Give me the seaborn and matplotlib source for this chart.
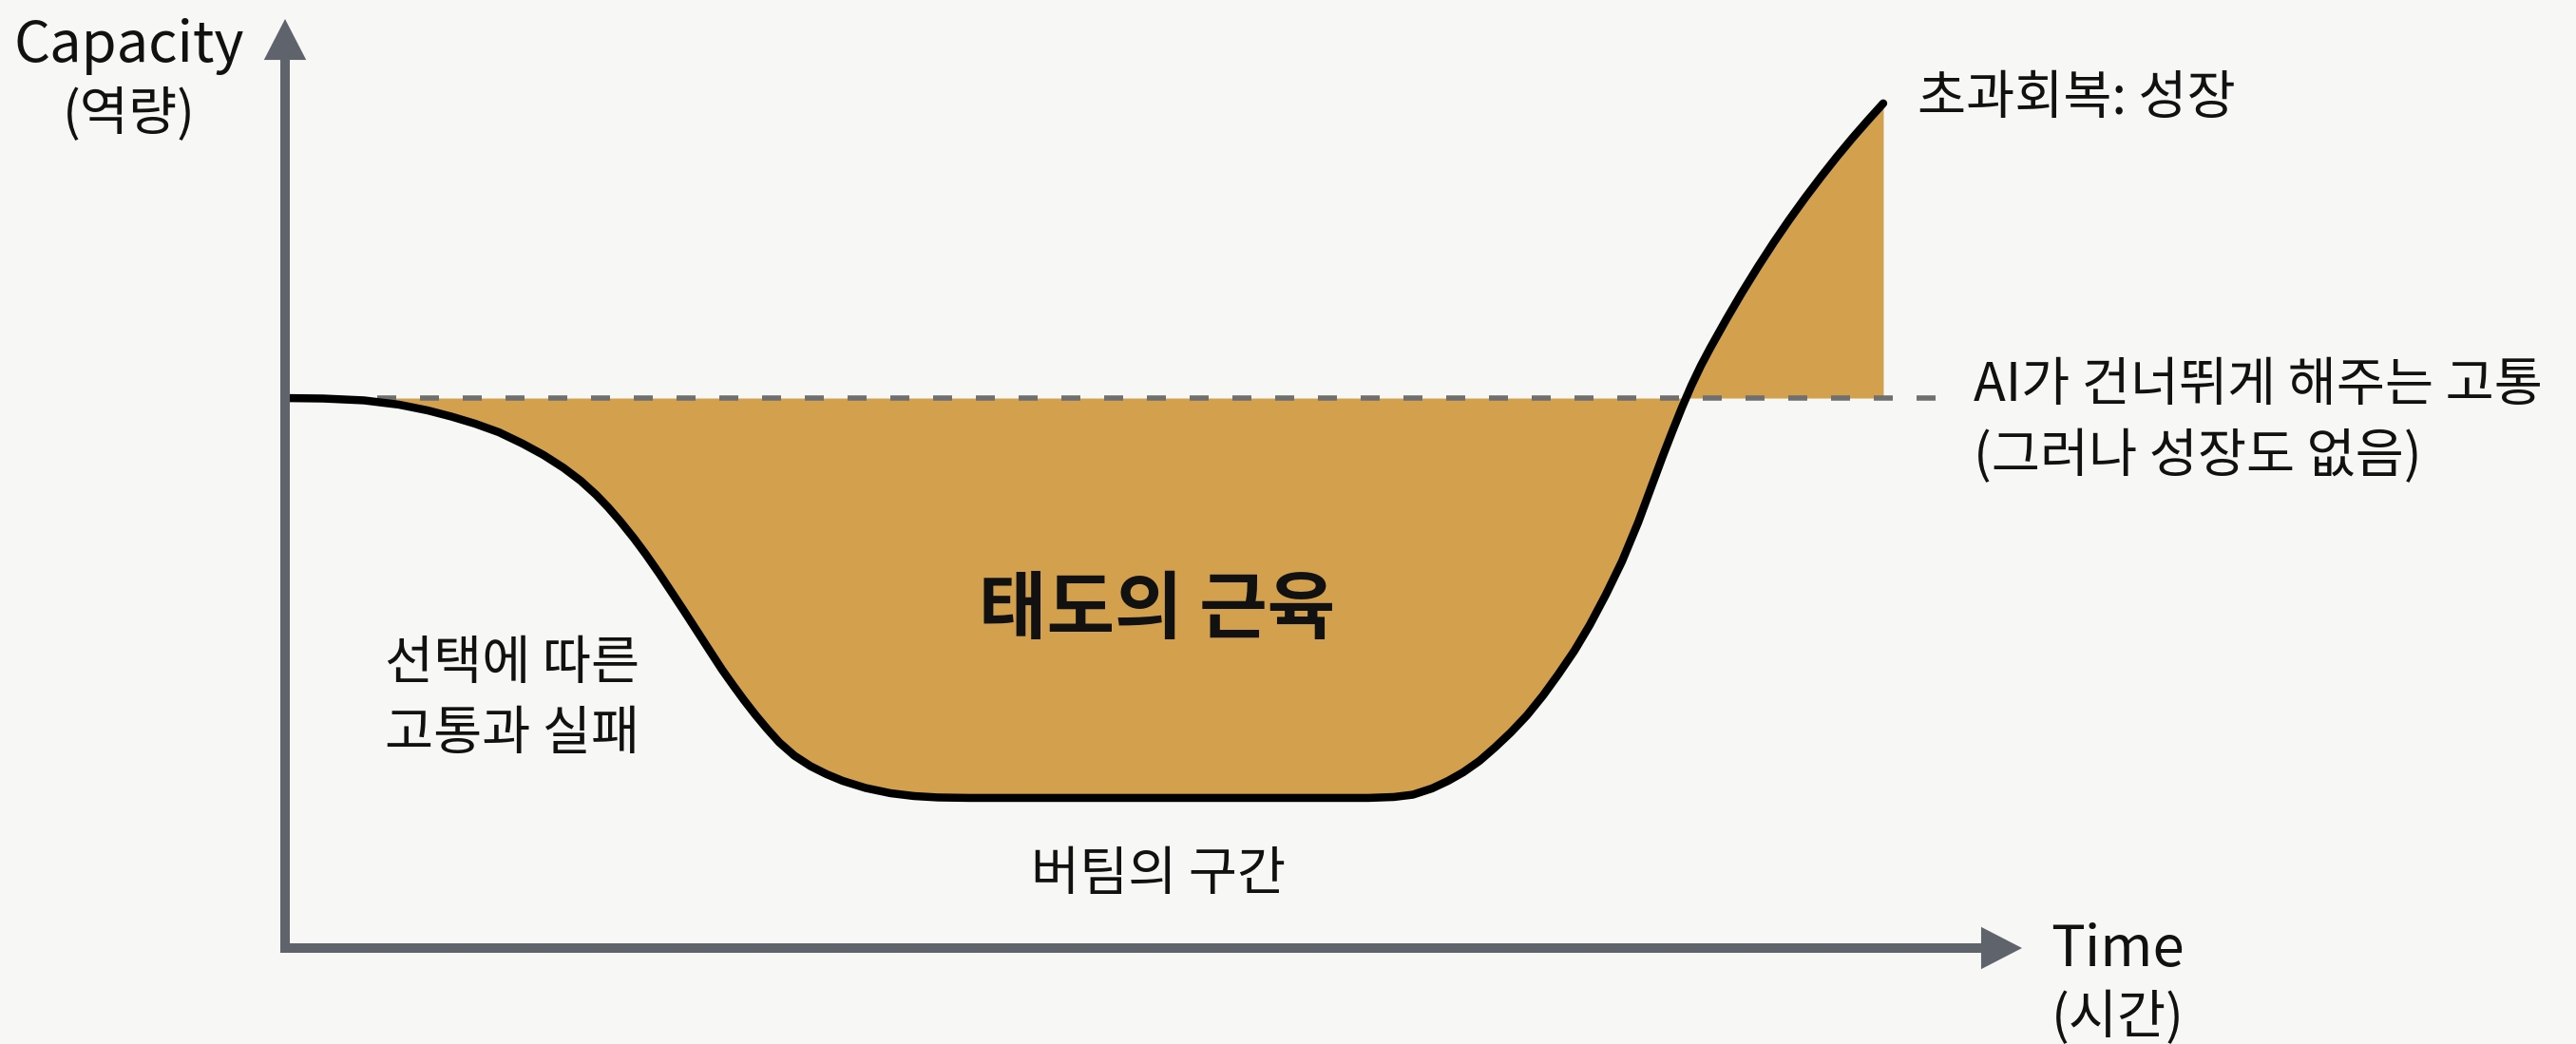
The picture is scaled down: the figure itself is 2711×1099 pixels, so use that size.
import matplotlib
matplotlib.use('Agg')
import matplotlib.pyplot as plt
import seaborn as sns
import pandas as pd

# capacity curve (time 0-100, capacity 0-100)
time_pts = [0.00, 2.19, 4.54, 6.56, 8.21, 9.57, 10.94, 12.31, 13.68, 14.88,
            16.03, 17.01, 17.89, 18.60, 19.31, 20.08, 20.79, 21.55, 22.26, 22.98,
            23.69, 24.45, 25.16, 25.82, 26.42, 27.08, 27.74, 28.45, 29.32, 30.25,
            31.18, 32.11, 33.42, 34.85, 36.21, 37.58, 39.39, 62.36, 63.84, 64.93,
            66.03, 66.96, 67.83, 68.76, 69.64, 70.57, 71.50, 72.43, 73.30, 74.23,
            75.11, 76.04, 76.97, 77.90, 78.77, 79.32, 79.87, 80.42, 80.96, 81.51,
            82.06, 82.99, 83.86, 84.79, 85.72, 86.60, 87.53, 88.46, 89.33, 90.26,
            91.14, 92.01]
capacity_pts = [59.20, 59.15, 58.95, 58.49, 57.87, 57.21, 56.44, 55.52, 54.29, 53.07,
                51.69, 50.31, 48.82, 47.44, 45.91, 44.12, 42.33, 40.29, 38.29, 36.25,
                34.20, 32.00, 29.96, 28.22, 26.69, 25.10, 23.62, 22.14, 20.71, 19.58,
                18.71, 17.99, 17.23, 16.67, 16.36, 16.21, 16.16, 16.16, 16.26, 16.51,
                17.18, 18.00, 18.92, 20.14, 21.57, 23.21, 25.05, 27.20, 29.45, 32.00,
                34.76, 38.04, 41.62, 45.81, 50.20, 52.97, 55.62, 58.18, 60.53, 62.68,
                64.62, 67.72, 70.50, 73.31, 75.99, 78.39, 80.80, 83.09, 85.15, 87.24,
                89.12, 90.92]

baseline_level = 59.2
baseline_span = [5.3, 95.5]

labels_left = ["선택에 따른", "고통과 실패"]
label_center = "태도의 근육"
label_bottom = "버팀의 구간"
label_peak = "초과회복: 성장"
labels_skip = ["AI가 건너뛰게 해주는 고통", "(그러나 성장도 없음)"]
y_label = ["Capacity", "(역량)"]
x_label = ["Time", "(시간)"]

BG = '#f7f7f5'
FILL = '#d3a04e'
AXIS = '#5f646c'
DASH = '#6f6f6f'
INK = '#111111'

sns.set_theme(style='white')
plt.rcParams['font.family'] = ['Noto Sans CJK KR', 'DejaVu Sans']

df = pd.DataFrame({'time': time_pts, 'capacity': capacity_pts})

fig = plt.figure(figsize=(27.11, 10.99), dpi=100, facecolor=BG)
ax = fig.add_axes([300 / 2711, 101 / 1099, 1828 / 2711, 978 / 1099])
ax.set_facecolor(BG)
ax.set_xlim(0, 100)
ax.set_ylim(0, 100)
ax.axis('off')

# muscle area between curve and the no-pain baseline
ax.fill_between(df['time'], df['capacity'], baseline_level,
                color=FILL, linewidth=0, zorder=1)

# baseline (pain skipped with AI)
ax.plot(baseline_span, [baseline_level, baseline_level], color=DASH, lw=4.0,
        linestyle=(0, (3.6, 4.5)), dash_capstyle='butt', zorder=2, clip_on=False)

# capacity curve
sns.lineplot(data=df, x='time', y='capacity', sort=False, estimator=None,
             color='black', linewidth=6.1, ax=ax, zorder=3,
             solid_capstyle='round', solid_joinstyle='round')

# axes with arrow heads
ax.plot([0, 0, 98.3], [97.0, 0, 0], color=AXIS, lw=7.2, solid_joinstyle='miter',
        solid_capstyle='butt', clip_on=False, zorder=4)
for tip, tail in [((100, 0), (96, 0)), ((0, 100), (0, 95))]:
    ax.annotate('', xy=tip, xytext=tail, annotation_clip=False,
                arrowprops=dict(arrowstyle='-|>,head_length=31,head_width=16',
                                mutation_scale=1, lw=0, color=AXIS,
                                shrinkA=0, shrinkB=0))

# labels
txt = dict(va='baseline', color=INK, fontweight='medium')
ax.text(-9.0, 95.4, y_label[0], ha='center', fontsize=43, **txt)
ax.text(-9.0, 88.1, y_label[1], ha='center', fontsize=40, **txt)
ax.text(105.5, -1.9, x_label[0], ha='center', fontsize=43, **txt)
ax.text(105.5, -9.2, x_label[1], ha='center', fontsize=40, **txt)

ax.text(94.0, 89.8, label_peak, ha='left', fontsize=40, **txt)
ax.text(97.2, 58.9, labels_skip[0], ha='left', fontsize=40, **txt)
ax.text(97.2, 51.2, labels_skip[1], ha='left', fontsize=40, **txt)

ax.text(13.1, 28.9, labels_left[0], ha='center', fontsize=40, **txt)
ax.text(13.1, 21.4, labels_left[1], ha='center', fontsize=40, **txt)

ax.text(50.2, 33.9, label_center, ha='center', va='baseline', fontsize=56,
        fontweight='bold', color=INK)
ax.text(50.3, 6.2, label_bottom, ha='center', fontsize=40, **txt)

fig.savefig('out.png', dpi=100, facecolor=BG)
